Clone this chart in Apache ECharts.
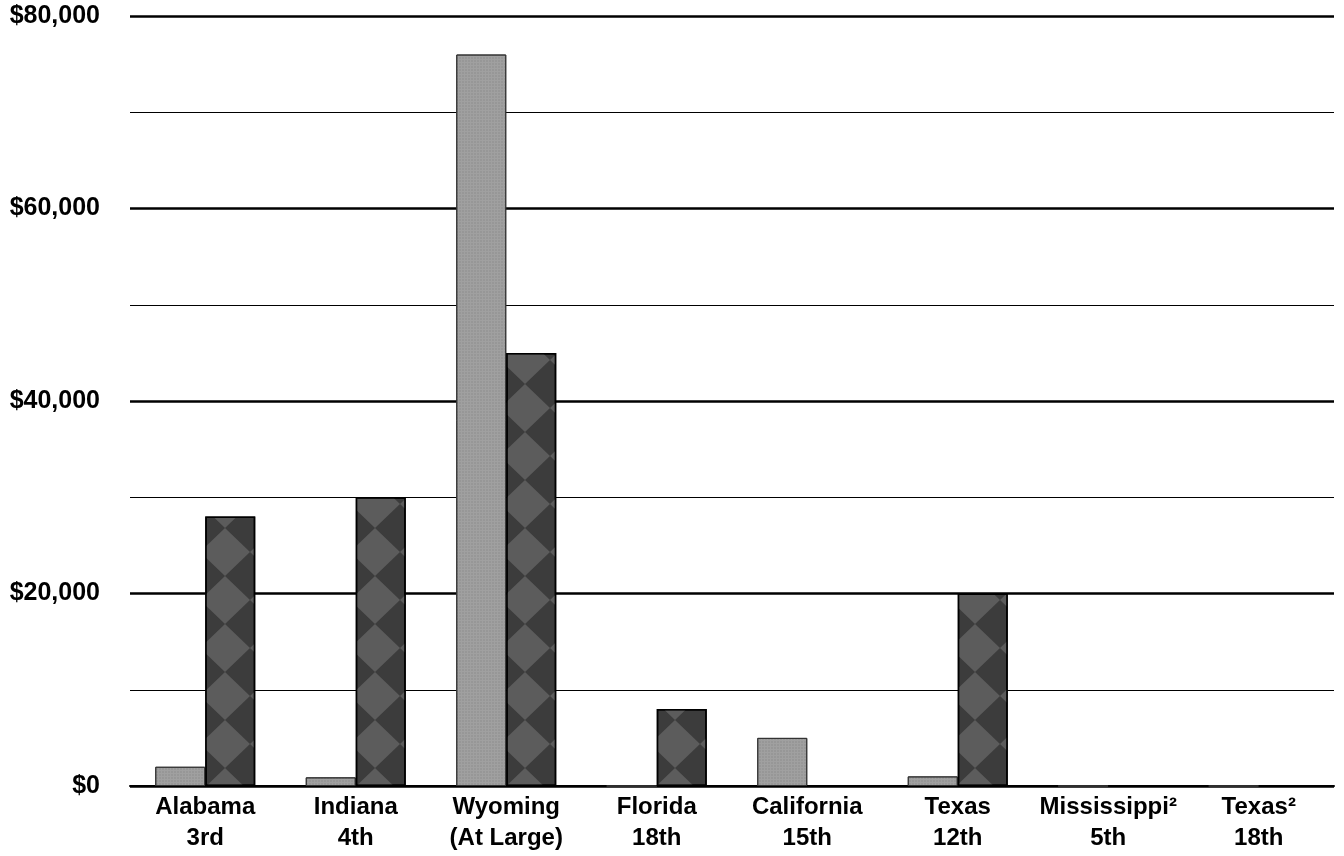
<!DOCTYPE html>
<html>
<head>
<meta charset="utf-8">
<script src="https://cdn.jsdelivr.net/npm/echarts@6/dist/echarts.min.js"></script>
<style>
html,body{margin:0;padding:0;background:#fff;}
#chart{width:1344px;height:856px;}
</style>
</head>
<body>
<div id="chart"></div>
<script>
// districts on the x axis
var districts = ['Alabama\n3rd', 'Indiana\n4th', 'Wyoming\n(At Large)', 'Florida\n18th', 'California\n15th', 'Texas\n12th', 'Mississippi²\n5th', 'Texas²\n18th'];
// light bars / dark bars (dollars)
var lightVals = [2000, 900, 76000, 0, 5000, 1000, 0, 0];
var darkVals = [28000, 30000, 45000, 8000, 0, 20000, 0, 0];
var yTicks = [0, 20000, 40000, 60000, 80000];

var myChart = echarts.init(document.getElementById('chart'));
var FONT = '"Liberation Sans", Arial, sans-serif';

myChart.setOption({
    animation: false,
    grid: {
        left: 130,
        right: 10,
        top: 16,
        bottom: 70
    },
    xAxis: {
        type: 'category',
        data: districts,
        axisLine: {show: true, lineStyle: {color: '#000', width: 2}},
        axisTick: {show: false},
        axisLabel: {
            color: '#000',
            fontFamily: FONT,
            fontWeight: 'bold',
            fontSize: 24,
            lineHeight: 31,
            margin: 6,
            interval: 0
        }
    },
    yAxis: {
        type: 'value',
        min: yTicks[0],
        max: yTicks[yTicks.length - 1],
        interval: 20000,
        axisLine: {show: false},
        axisTick: {show: false},
        axisLabel: {
            color: '#000',
            fontFamily: FONT,
            fontWeight: 'bold',
            fontSize: 25,
            margin: 30,
            formatter: function (v) {
                return '$' + v.toLocaleString('en-US');
            }
        },
        splitLine: {show: true, lineStyle: {color: '#000', width: 2.5}},
        minorTick: {show: false, splitNumber: 2},
        minorSplitLine: {show: true, lineStyle: {color: '#000', width: 1}}
    },
    series: [{
        name: 'light',
        type: 'bar',
        data: lightVals,
        barWidth: 50,
        barGap: '0%',
        itemStyle: {
            color: '#a0a0a0',
            borderColor: '#333',
            borderWidth: 1,
            decal: {
                symbol: 'rect',
                symbolSize: 0.5,
                color: 'rgba(60,60,60,0.35)',
                dashArrayX: [2, 1],
                dashArrayY: [2, 1],
                rotation: 0
            }
        }
    }, {
        name: 'dark',
        type: 'bar',
        data: darkVals,
        barWidth: 50,
        itemStyle: {
            color: '#3c3c3c',
            borderColor: '#000',
            borderWidth: 1.5,
            decal: {
                symbol: 'diamond',
                symbolSize: 1,
                color: 'rgba(130,130,130,0.45)',
                dashArrayX: [50, 0],
                dashArrayY: [48, 0],
                rotation: 0
            }
        }
    }]
});
</script>
</body>
</html>
